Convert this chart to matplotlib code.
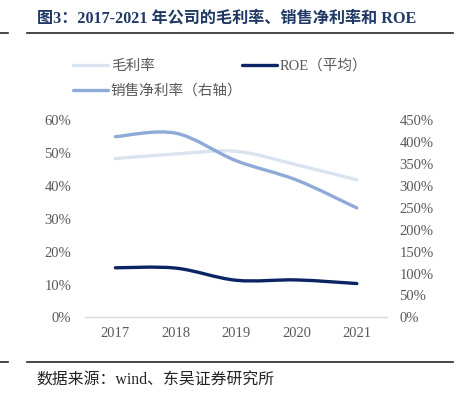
import numpy as np
import matplotlib
matplotlib.use('Agg')
from matplotlib import pyplot as plt
from matplotlib.path import Path
from matplotlib.patches import PathPatch
from matplotlib.lines import Line2D
from matplotlib.ticker import FuncFormatter

plt.rcParams['font.family'] = ['Liberation Serif', 'Noto Sans CJK SC', 'DejaVu Sans']

years = ['2017', '2018', '2019', '2020', '2021']
gross_margin = [48.4, 49.8, 50.6, 46.5, 41.9]      # 毛利率, left axis
roe = [15.1, 15.0, 11.3, 11.4, 10.3]               # ROE（平均）, left axis
net_margin = [413, 421, 358, 314, 250]             # 销售净利率, right axis

c_gross = '#dae3f0'
c_roe = '#0b2463'
c_net = '#8eaad8'
c_text = '#595959'


def smooth_path(xs, ys):
    # Excel-style smoothed line as cubic bezier segments
    pts = np.column_stack([xs, ys]).astype(float)
    n = len(pts)
    verts = [pts[0]]
    codes = [Path.MOVETO]
    for i in range(n - 1):
        p0 = pts[i - 1] if i > 0 else pts[i]
        p1 = pts[i]
        p2 = pts[i + 1]
        p3 = pts[i + 2] if i + 2 < n else pts[i + 1]
        verts += [p1 + (p2 - p0) / 6, p2 - (p3 - p1) / 6, p2]
        codes += [Path.CURVE4] * 3
    return Path(verts, codes)


fig = plt.figure(figsize=(4.58, 3.97), dpi=100)
ax = fig.add_axes([0.186, 0.2007, 0.659, 0.4958])
ax2 = ax.twinx()

x = np.arange(len(years))
ax.add_patch(PathPatch(smooth_path(x, gross_margin), fill=False, ec=c_gross, lw=2.4,
                       capstyle='round', joinstyle='round'))
ax.add_patch(PathPatch(smooth_path(x, roe), fill=False, ec=c_roe, lw=2.4,
                       capstyle='round', joinstyle='round'))
ax2.add_patch(PathPatch(smooth_path(x, net_margin), fill=False, ec=c_net, lw=2.4,
                        capstyle='round', joinstyle='round'))

ax.set_xlim(-0.5, len(years) - 0.5)
ax.set_ylim(0, 60)
ax2.set_ylim(0, 450)
ax.set_xticks(x)
ax.set_xticklabels(years)
ax.set_yticks(np.arange(0, 61, 10))
ax2.set_yticks(np.arange(0, 451, 50))
ax.yaxis.set_major_formatter(FuncFormatter(lambda v, p: f'{v:.0f}%'))
ax2.yaxis.set_major_formatter(FuncFormatter(lambda v, p: f'{v:.0f}%'))

for a in (ax, ax2):
    for s in a.spines.values():
        s.set_visible(False)
    a.tick_params(length=0, labelsize=10.5, colors=c_text)
ax.spines['bottom'].set_visible(True)
ax.spines['bottom'].set_color('#d9d9d9')
ax.spines['bottom'].set_linewidth(1)
ax.tick_params(axis='y', pad=10)
ax.tick_params(axis='x', pad=7)
ax2.tick_params(axis='y', pad=9)

# legend
handles = [Line2D([], [], color=c_gross, lw=2.4, solid_capstyle='round'),
           Line2D([], [], color=c_roe, lw=2.4, solid_capstyle='round'),
           Line2D([], [], color=c_net, lw=2.4, solid_capstyle='round')]
labels = ['毛利率', 'ROE（平均）', '销售净利率（右轴）']
leg_font = {'family': ['Liberation Serif', 'Noto Sans CJK SC'], 'size': 10.5}
fig.legend(handles[:2], labels[:2], ncol=2, frameon=False, loc='center left',
           bbox_to_anchor=(73 / 458, 1 - 66 / 397), handlelength=2.4, handletextpad=0.2,
           borderpad=0, borderaxespad=0, columnspacing=5.95, prop=leg_font,
           labelcolor=c_text)
fig.legend(handles[2:], labels[2:], frameon=False, loc='center left',
           bbox_to_anchor=(73 / 458, 1 - 91 / 397), handlelength=2.4, handletextpad=0.2,
           borderpad=0, borderaxespad=0, prop=leg_font, labelcolor=c_text)

# title and rules
fig.text(37 / 458, 1 - 19 / 397, '图3：2017-2021 年公司的毛利率、销售净利率和 ROE', fontsize=11.6,
         fontweight='bold', color='#1f3864', va='center', ha='left')
for yy in (1 - 33 / 397, 1 - 362 / 397):
    fig.add_artist(Line2D([27 / 458, 453 / 458], [yy, yy], color='#262626', lw=1.2))
    fig.add_artist(Line2D([0, 8 / 458], [yy, yy], color='#262626', lw=1.2))
fig.text(36 / 458, 1 - 381 / 397, '数据来源：wind、东吴证券研究所', fontsize=11.4,
         color='#222222', va='center', ha='left')

fig.savefig('out.png', dpi=100)
